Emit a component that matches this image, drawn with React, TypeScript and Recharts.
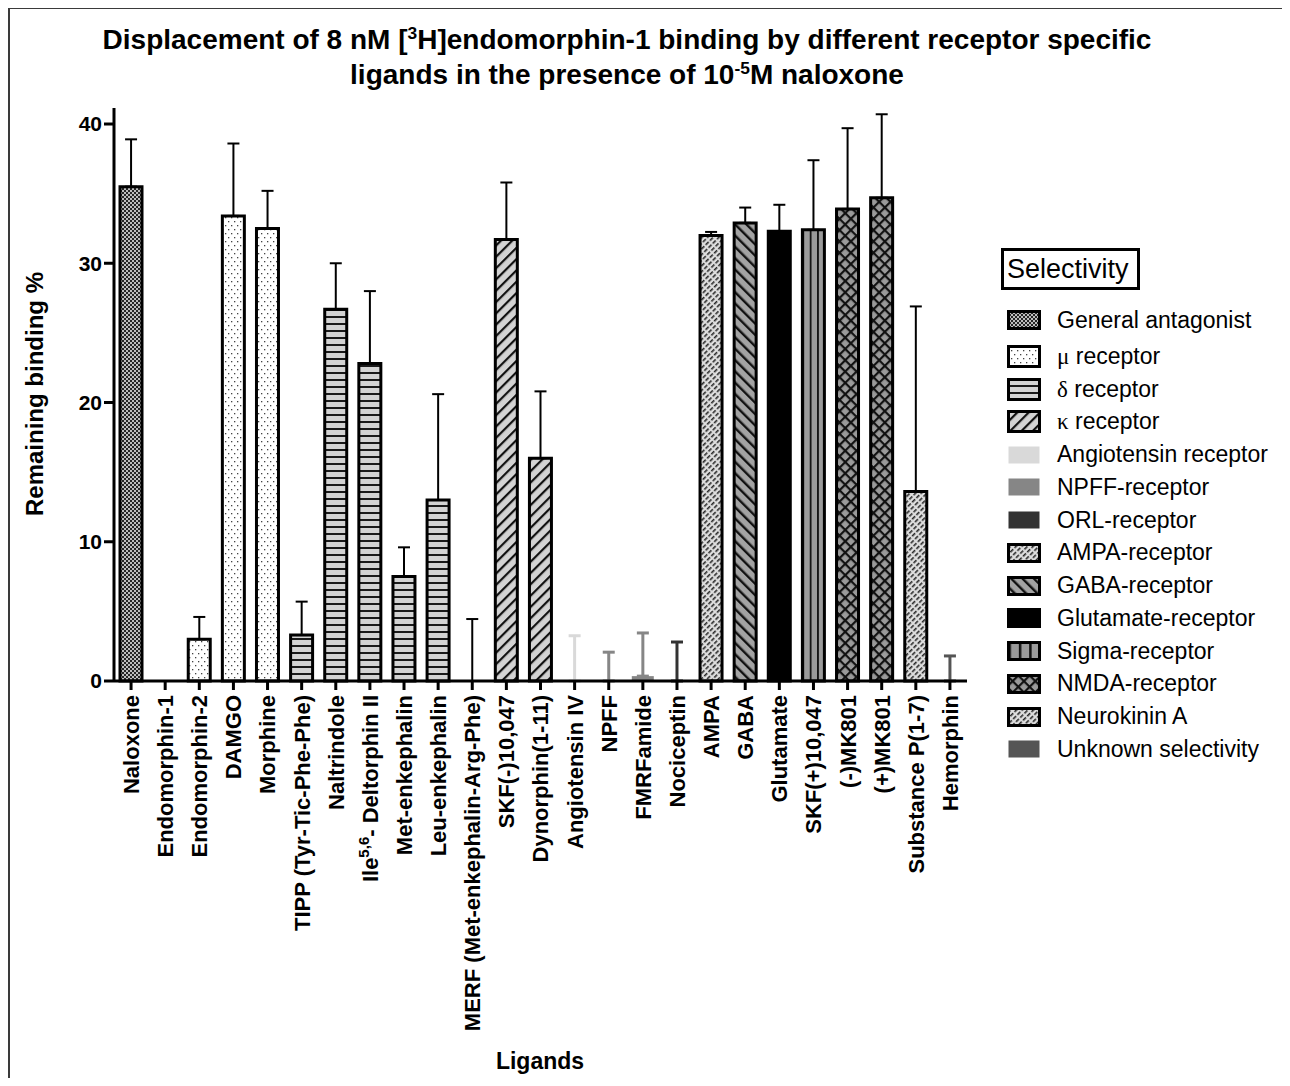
import React from 'react';
import { ComposedChart, Bar, Scatter, XAxis, YAxis, Cell, ErrorBar } from 'recharts';

// ligands on the x axis, "^...^" marks a superscript part of the label
const ligands = [
  'Naloxone', 'Endomorphin-1', 'Endomorphin-2', 'DAMGO', 'Morphine',
  'TIPP (Tyr-Tic-Phe-Phe)', 'Naltrindole', 'Ile^5,6^- Deltorphin II', 'Met-enkephalin', 'Leu-enkephalin',
  'MERF (Met-enkephalin-Arg-Phe)', 'SKF(-)10,047', 'Dynorphin(1-11)', 'Angiotensin IV', 'NPFF',
  'FMRFamide', 'Nociceptin', 'AMPA', 'GABA', 'Glutamate',
  'SKF(+)10,047', '(-)MK801', '(+)MK801', 'Substance P(1-7)', 'Hemorphin',
];

// remaining binding % (mean) and upper error
const binding = [35.5, 0, 3.0, 33.4, 32.5, 3.3, 26.7, 22.8, 7.5, 13.0, 0, 31.7, 16.0, 0, 0, 0.35, 0, 32.0, 32.9, 32.3, 32.4, 33.9, 34.7, 13.6, 0];
const errorUp = [3.4, 0, 1.6, 5.2, 2.7, 2.4, 3.3, 5.2, 2.1, 7.6, 4.45, 4.1, 4.8, 3.25, 2.07, 3.1, 2.8, 0.25, 1.1, 1.9, 5.0, 5.8, 6.0, 13.3, 1.8];

const selectivities = [
  'General antagonist', 'μ receptor', 'δ receptor', 'κ receptor', 'Angiotensin receptor',
  'NPFF-receptor', 'ORL-receptor', 'AMPA-receptor', 'GABA-receptor', 'Glutamate-receptor',
  'Sigma-receptor', 'NMDA-receptor', 'Neurokinin A', 'Unknown selectivity',
];
// index into selectivities for each ligand
const selectivityOf = [0, 1, 1, 1, 1, 2, 2, 2, 2, 2, 2, 3, 3, 4, 5, 5, 6, 7, 8, 9, 10, 11, 11, 12, 13];

const yTicks = [0, 10, 20, 30, 40];

const looks = [
  { fill: 'url(#p-general)', stroke: '#000', err: '#000' },
  { fill: 'url(#p-mu)', stroke: '#000', err: '#000' },
  { fill: 'url(#p-delta)', stroke: '#000', err: '#000' },
  { fill: 'url(#p-kappa)', stroke: '#000', err: '#000' },
  { fill: '#d9d9d9', stroke: 'none', err: '#d9d9d9' },
  { fill: '#868686', stroke: 'none', err: '#868686' },
  { fill: '#333333', stroke: 'none', err: '#333333' },
  { fill: 'url(#p-ampa)', stroke: '#000', err: '#000' },
  { fill: 'url(#p-gaba)', stroke: '#000', err: '#000' },
  { fill: '#000', stroke: '#000', err: '#000' },
  { fill: 'url(#p-sigma)', stroke: '#000', err: '#000' },
  { fill: 'url(#p-nmda)', stroke: '#000', err: '#000' },
  { fill: 'url(#p-ampa)', stroke: '#000', err: '#000' },
  { fill: '#555555', stroke: 'none', err: '#555555' },
];

const errColors = ['#000', '#d9d9d9', '#868686', '#333333', '#555555'];

const data = ligands.map((name, i) => {
  const look = looks[selectivityOf[i]];
  const row: any = { name, value: binding[i] };
  errColors.forEach((c, k) => {
    row[`e${k}`] = look.err === c && errorUp[i] > 0 ? [0, errorUp[i]] : null;
  });
  return row;
});

const font = '"Liberation Sans", Arial, Helvetica, sans-serif';

const LigandTick = ({ x, y, payload }: any) => {
  const parts = String(payload.value).split('^');
  return (
    <text
      transform={`translate(${x},${y}) rotate(-90)`}
      x={-3}
      dy="0.36em"
      textAnchor="end"
      fontSize={22}
      fontWeight="bold"
      fill="#000"
      fontFamily={font}
    >
      {parts.length === 1 ? (
        parts[0]
      ) : (
        <>
          <tspan>{parts[0]}</tspan>
          <tspan dy={-9} fontSize={15}>{parts[1]}</tspan>
          <tspan dy={9}>{parts[2]}</tspan>
        </>
      )}
    </text>
  );
};

const Patterns = () => (
  <svg width={0} height={0} style={{ position: 'absolute' }}>
    <defs>
      <pattern id="p-general" patternUnits="userSpaceOnUse" width="4" height="4">
        <rect width="4" height="4" fill="#262626" />
        <rect x="0" y="0" width="2" height="2" fill="#bdbdbd" />
        <rect x="2" y="2" width="2" height="2" fill="#bdbdbd" />
      </pattern>
      <pattern id="p-mu" patternUnits="userSpaceOnUse" width="6" height="8">
        <rect width="6" height="8" fill="#fff" />
        <rect x="1" y="1" width="1.3" height="1.3" fill="#444" />
        <rect x="4" y="5" width="1.3" height="1.3" fill="#444" />
      </pattern>
      <pattern id="p-delta" patternUnits="userSpaceOnUse" width="8" height="7">
        <rect width="8" height="7" fill="#d3d3d3" />
        <rect y="0" width="8" height="2" fill="#1a1a1a" />
      </pattern>
      <pattern id="p-kappa" patternUnits="userSpaceOnUse" width="8" height="8" patternTransform="rotate(45)">
        <rect width="8" height="8" fill="#d3d3d3" />
        <rect x="0" width="2.2" height="8" fill="#111" />
      </pattern>
      <pattern id="p-gaba" patternUnits="userSpaceOnUse" width="8" height="8" patternTransform="rotate(-45)">
        <rect width="8" height="8" fill="#a3a3a3" />
        <rect x="0" width="2.4" height="8" fill="#111" />
      </pattern>
      <pattern id="p-nmda" patternUnits="userSpaceOnUse" width="8" height="8" patternTransform="rotate(45)">
        <rect width="8" height="8" fill="#9a9a9a" />
        <rect x="0" width="2.2" height="8" fill="#111" />
        <rect y="0" width="8" height="2.2" fill="#111" />
      </pattern>
      <pattern id="p-ampa" patternUnits="userSpaceOnUse" width="4" height="6" patternTransform="rotate(45)">
        <rect width="4" height="6" fill="#dedede" />
        <rect x="0" y="0" width="1.6" height="4.2" fill="#2a2a2a" />
      </pattern>
      <pattern id="p-sigma" patternUnits="objectBoundingBox" patternContentUnits="objectBoundingBox" width="0.3333" height="1">
        <rect width="0.3333" height="1" fill="#9a9a9a" />
        <rect x="0" width="0.08" height="1" fill="#111" />
      </pattern>
    </defs>
  </svg>
);

const LegendLabel = ({ text }: { text: string }) => {
  const first = text.charAt(0);
  if ('μδκ'.includes(first)) {
    return (
      <span>
        <span style={{ fontFamily: '"Liberation Serif", "Times New Roman", serif' }}>{first}</span>
        {text.slice(1)}
      </span>
    );
  }
  return <span>{text}</span>;
};

const SelectivityLegend = () => (
  <div style={{ position: 'absolute', left: 993, top: 240, fontFamily: font }}>
    <div
      style={{
        width: 130,
        height: 36,
        border: '3px solid #000',
        fontSize: 27,
        lineHeight: '36px',
        paddingLeft: 3,
        boxSizing: 'content-box',
      }}
    >
      Selectivity
    </div>
    <div style={{ marginTop: 12 }}>
      {selectivities.map((s, i) => {
        const look = looks[i];
        const bordered = look.stroke !== 'none';
        const tall = bordered && i > 0 && i < 4;
        return (
          <div
            key={s}
            style={{
              display: 'flex',
              alignItems: 'center',
              height: i === 0 ? 40 : 32.75,
              marginTop: i === 0 ? -2 : 0,
            }}
          >
            <svg width={34} height={tall ? 23 : 20} style={{ marginLeft: 6, flex: 'none' }}>
              <rect
                x={1.5}
                y={1.5}
                width={31}
                height={tall ? 20 : 17}
                fill={look.fill}
                stroke={bordered ? '#000' : 'none'}
                strokeWidth={bordered ? 3 : 0}
              />
            </svg>
            <span style={{ marginLeft: 16, fontSize: 23, whiteSpace: 'nowrap' }}>
              <LegendLabel text={s} />
            </span>
          </div>
        );
      })}
    </div>
  </div>
);

const NoMark = () => <g />;

export default function App() {
  return (
    <div style={{ position: 'relative', width: 1274, height: 1070, fontFamily: font, color: '#000', background: '#fff' }}>
      <Patterns />
      <div
        style={{
          position: 'absolute',
          left: 0,
          top: -1,
          width: 1282,
          height: 1079,
          borderTop: '2px solid #3a3a3a',
          borderLeft: '2px solid #3a3a3a',
          boxSizing: 'border-box',
        }}
      />
      <div
        style={{
          position: 'absolute',
          left: 0,
          top: 14,
          width: 1238,
          textAlign: 'center',
          fontSize: 28,
          fontWeight: 'bold',
          lineHeight: '35px',
        }}
      >
        <div>
          Displacement of 8 nM [<sup style={{ fontSize: '0.62em', lineHeight: 0 }}>3</sup>H]endomorphin-1 binding by different receptor specific
        </div>
        <div>
          ligands in the presence of 10<sup style={{ fontSize: '0.62em', lineHeight: 0 }}>-5</sup>M naloxone
        </div>
      </div>
      <div
        style={{
          position: 'absolute',
          left: 27,
          top: 386,
          transform: 'translate(-50%, -50%) rotate(-90deg)',
          whiteSpace: 'nowrap',
          fontSize: 24,
          fontWeight: 'bold',
        }}
      >
        Remaining binding %
      </div>
      <div
        style={{
          position: 'absolute',
          left: 532,
          top: 1053,
          transform: 'translate(-50%, -50%)',
          whiteSpace: 'nowrap',
          fontSize: 23,
          fontWeight: 'bold',
        }}
      >
        Ligands
      </div>
      <ComposedChart width={1274} height={1070} data={data} margin={{ top: 100, right: 315, left: 46, bottom: 37 }}>
        <XAxis
          dataKey="name"
          interval={0}
          height={360}
          tick={<LigandTick />}
          tickSize={9}
          axisLine={{ stroke: '#000', strokeWidth: 3 }}
          tickLine={{ stroke: '#000', strokeWidth: 3 }}
        />
        <YAxis
          width={60}
          domain={[0, 41.15]}
          ticks={yTicks}
          interval={0}
          tickSize={10}
          tick={{ fill: '#000', fontSize: 21, fontWeight: 'bold', fontFamily: font }}
          axisLine={{ stroke: '#000', strokeWidth: 3 }}
          tickLine={{ stroke: '#000', strokeWidth: 3 }}
        />
        <Bar dataKey="value" barSize={22} isAnimationActive={false}>
          {data.map((d, i) => {
            const look = looks[selectivityOf[i]];
            return (
              <Cell
                key={d.name}
                fill={look.fill}
                stroke={look.stroke}
                strokeWidth={look.stroke === 'none' ? 0 : 3}
              />
            );
          })}
        </Bar>
        {errColors.map((c, k) => (
          <Scatter key={c} dataKey="value" shape={<NoMark />} isAnimationActive={false}>
            <ErrorBar
              dataKey={`e${k}`}
              direction="y"
              width={6}
              stroke={c}
              strokeWidth={k === 0 ? 2 : 3}
              isAnimationActive={false}
            />
          </Scatter>
        ))}
      </ComposedChart>
      <SelectivityLegend />
    </div>
  );
}
